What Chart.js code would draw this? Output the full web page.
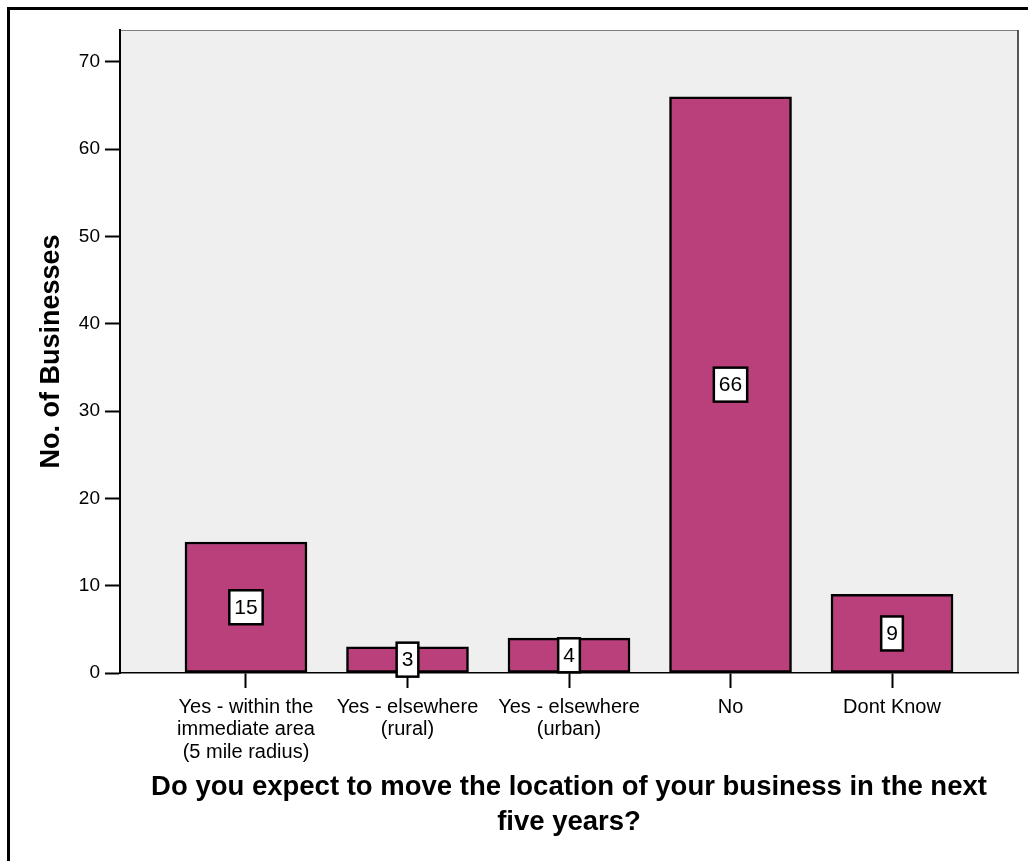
<!DOCTYPE html>
<html>
<head>
<meta charset="utf-8">
<script src="https://cdn.jsdelivr.net/npm/chart.js@4/dist/chart.umd.min.js"></script>
<style>
  html, body { margin: 0; padding: 0; background: #fff; }
  #wrap { width: 1028px; height: 861px; position: relative; }
</style>
</head>
<body>
<div id="wrap"><canvas id="c" width="1028" height="861"></canvas></div>
<script>
// ---- data ----
const categories = [
  ["Yes - within the", "immediate area", "(5 mile radius)"],
  ["Yes - elsewhere", "(rural)"],
  ["Yes - elsewhere", "(urban)"],
  ["No"],
  ["Dont Know"]
];
const counts = [15, 3, 4, 66, 9];
const yTicks = [0, 10, 20, 30, 40, 50, 60, 70];
const yTitle = "No. of Businesses";
const xTitle = ["Do you expect to move the location of your business in the next", "five years?"];

const FONT = "Arial, 'Liberation Sans', Helvetica, sans-serif";

const bgPlugin = {
  id: 'bg',
  beforeDraw(chart) {
    const {ctx, chartArea: a} = chart;
    ctx.save();
    // outer frame
    ctx.fillStyle = '#000';
    ctx.fillRect(7, 7, 1028, 3);
    ctx.fillRect(7, 7, 3, 861);
    // plot background
    ctx.fillStyle = '#EFEFEF';
    ctx.fillRect(a.left, a.top, a.right - a.left, a.bottom - a.top);
    ctx.strokeStyle = '#808080';
    ctx.lineWidth = 1;
    ctx.beginPath();
    ctx.moveTo(a.left, a.top + 0.5);
    ctx.lineTo(a.right, a.top + 0.5);
    ctx.stroke();
    ctx.strokeStyle = '#555';
    ctx.lineWidth = 2;
    ctx.beginPath();
    ctx.moveTo(a.right, a.top);
    ctx.lineTo(a.right, a.bottom);
    ctx.stroke();
    ctx.restore();
  }
};

const labelPlugin = {
  id: 'boxLabels',
  afterDatasetsDraw(chart) {
    const {ctx} = chart;
    const meta = chart.getDatasetMeta(0);
    ctx.save();
    ctx.font = "21px " + FONT;
    ctx.textAlign = 'center';
    ctx.textBaseline = 'middle';
    meta.data.forEach((bar, i) => {
      const txt = String(counts[i]);
      const w = ctx.measureText(txt).width + 10;
      const h = 34;
      const cx = bar.x;
      const cy = (bar.y + bar.base) / 2;
      ctx.fillStyle = '#fff';
      ctx.fillRect(cx - w / 2, cy - h / 2, w, h);
      ctx.strokeStyle = '#000';
      ctx.lineWidth = 2.5;
      ctx.strokeRect(cx - w / 2, cy - h / 2, w, h);
      ctx.fillStyle = '#000';
      ctx.fillText(txt, cx, cy + 1);
    });
    ctx.restore();
  }
};

new Chart(document.getElementById('c'), {
  type: 'bar',
  data: {
    datasets: [{
      data: counts.map((v, i) => ({x: i + 1, y: v})),
      backgroundColor: '#BA407C',
      borderColor: '#000',
      borderWidth: 2.5,
      borderSkipped: false,
      barThickness: 122
    }]
  },
  options: {
    responsive: false,
    animation: false,
    devicePixelRatio: 1,
    layout: { padding: { left: 0, top: 30, right: 10, bottom: 0 } },
    plugins: { legend: { display: false }, tooltip: { enabled: false } },
    scales: {
      x: {
        type: 'linear',
        min: 0.22,
        max: 5.78,
        offset: false,
        afterFit(s) { s.height = 188; },
        afterBuildTicks(s) { s.ticks = categories.map((c, i) => ({value: i + 1})); },
        border: { display: true, color: '#000', width: 1.5 },
        grid: { display: true, drawOnChartArea: false, drawTicks: true, tickLength: 15, tickWidth: 2, tickColor: '#000', offset: false },
        ticks: {
          autoSkip: false, maxRotation: 0, minRotation: 0, padding: 8,
          color: '#000',
          font: { family: FONT, size: 20, lineHeight: 1.12 },
          callback: (v) => categories[v - 1] || ''
        },
        title: {
          display: true, text: xTitle, color: '#000',
          font: { family: FONT, size: 27.5, weight: 'bold', lineHeight: 1.24 },
          padding: { top: 0, bottom: 22 }
        }
      },
      y: {
        min: 0,
        max: 73.65,
        afterFit(s) { s.width = 120; },
        afterBuildTicks(s) { s.ticks = yTicks.map(v => ({value: v})); },
        border: { display: true, color: '#000', width: 2 },
        grid: { display: true, drawOnChartArea: false, drawTicks: true, tickLength: 15, tickWidth: 2, tickColor: '#000' },
        ticks: {
          padding: 5, color: '#000',
          font: { family: FONT, size: 19 },
          callback: (v) => String(v)
        },
        title: {
          display: true, text: yTitle, color: '#000',
          font: { family: FONT, size: 27, weight: 'bold', lineHeight: 1.2 },
          padding: { top: 35, bottom: 0 }
        }
      }
    }
  },
  plugins: [bgPlugin, labelPlugin]
});
</script>
</body>
</html>
